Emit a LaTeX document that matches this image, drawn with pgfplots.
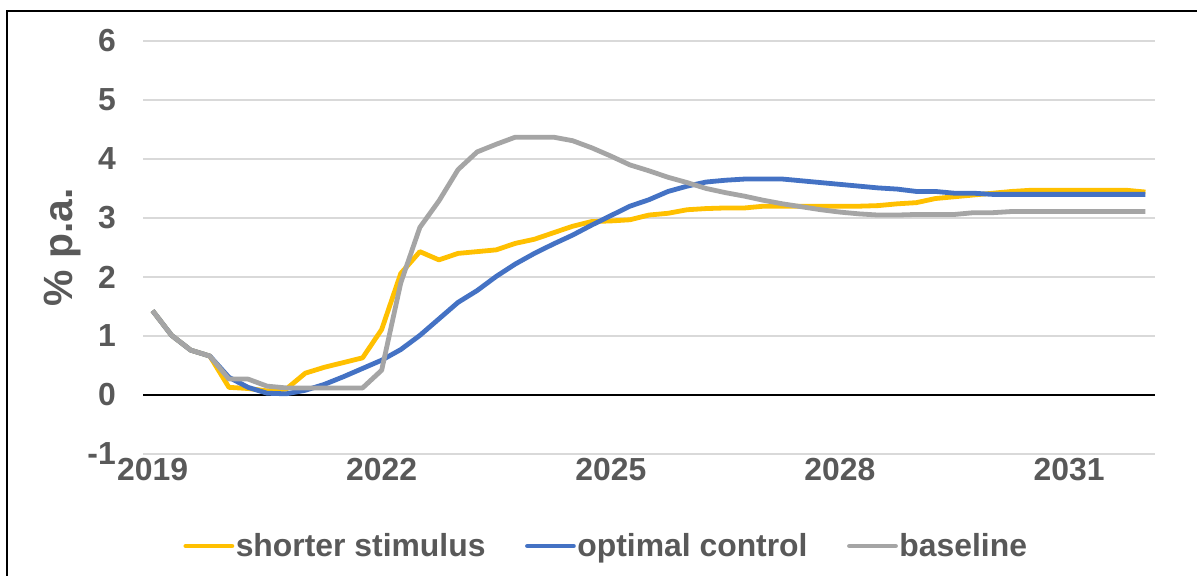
\documentclass[border=0pt]{standalone}
\usepackage{pgfplots}
\pgfplotsset{compat=1.18}
\usepackage{pgfplotstable}
\usepackage{fontspec}
\setmainfont{Liberation Sans}
\definecolor{cyel}{HTML}{FFC000}
\definecolor{cblu}{HTML}{4472C4}
\definecolor{cgry}{HTML}{A5A5A5}
\definecolor{ctxt}{HTML}{595959}
\definecolor{cgrid}{HTML}{D9D9D9}

\pgfplotstableread{
i yel blu gry
0 1.43 1.43 1.43
1 1.01 1.01 1.01
2 0.76 0.76 0.76
3 0.66 0.66 0.66
4 0.13 0.30 0.27
5 0.11 0.13 0.27
6 0.07 0.03 0.15
7 0.10 0.02 0.12
8 0.37 0.08 0.12
9 0.47 0.18 0.12
10 0.55 0.31 0.12
11 0.63 0.45 0.12
12 1.11 0.59 0.42
13 2.06 0.77 1.90
14 2.43 1.01 2.84
15 2.29 1.29 3.29
16 2.40 1.57 3.82
17 2.43 1.77 4.12
18 2.46 2.01 4.25
19 2.57 2.22 4.37
20 2.64 2.40 4.37
21 2.75 2.56 4.37
22 2.86 2.71 4.31
23 2.94 2.88 4.19
24 2.95 3.04 4.05
25 2.97 3.20 3.90
26 3.05 3.31 3.80
27 3.08 3.45 3.69
28 3.14 3.54 3.60
29 3.16 3.61 3.50
30 3.17 3.64 3.43
31 3.17 3.66 3.37
32 3.20 3.66 3.30
33 3.20 3.66 3.24
34 3.20 3.63 3.19
35 3.20 3.60 3.14
36 3.20 3.57 3.10
37 3.20 3.54 3.07
38 3.21 3.51 3.05
39 3.24 3.49 3.05
40 3.26 3.45 3.06
41 3.33 3.45 3.06
42 3.36 3.42 3.06
43 3.39 3.42 3.09
44 3.42 3.40 3.09
45 3.45 3.40 3.11
46 3.47 3.40 3.11
47 3.47 3.40 3.11
48 3.47 3.40 3.11
49 3.47 3.40 3.11
50 3.47 3.40 3.11
51 3.47 3.40 3.11
52 3.44 3.40 3.11
}\datatable

\begin{document}
\begin{tikzpicture}
\useasboundingbox (0bp,0bp) rectangle (1197bp,576bp);
\fill[white] (0bp,0bp) rectangle (1197bp,576bp);
\draw[black, line width=1.5bp] (7bp,-10bp) -- (7bp,565bp) -- (1210bp,565bp);
\begin{axis}[
  at={(143bp,122bp)}, anchor=south west,
  scale only axis, width=1012bp, height=413bp,
  xmin=-0.5, xmax=52.5, ymin=-1, ymax=6,
  xtick={0,12,24,36,48}, xticklabels={2019,2022,2025,2028,2031},
  ytick={-1,0,...,6},
  ymajorgrids, grid style={cgrid, line width=1.3bp},
  extra y ticks={0}, extra y tick labels={},
  extra y tick style={grid style={black, line width=1.3bp}},
  axis line style={draw=none},
  major tick length=0pt,
  /pgf/number format/assume math mode=true,
  ticklabel style={font=\fontsize{32}{36}\selectfont\bfseries, text=ctxt},
  yticklabel style={anchor=east, inner sep=0pt, xshift=-27bp},
  xticklabel style={anchor=north, inner sep=0pt, yshift=-4bp},
  ylabel={\% p.a.},
  every axis y label/.style={at={(axis description cs:-0.08,0.5)}, rotate=90, anchor=center,
     font=\fontsize{41}{46}\selectfont\bfseries, text=ctxt},
  legend columns=3,
  legend style={at={(axis description cs:0.4575,-0.2228)}, anchor=center, draw=none, fill=none,
     font=\fontsize{32}{36}\selectfont\bfseries, text=ctxt, inner sep=0pt,
     nodes={inner sep=1.5bp},
     /tikz/every even column/.append style={column sep=38bp}},
  legend image code/.code={\draw[#1, line cap=round] (0bp,0bp) -- (46bp,0bp);},
  every axis plot/.append style={line width=4.8bp, mark=none, line join=round},
]
\addplot[cyel] table[x=i, y=yel] {\datatable};
\addlegendentry{shorter stimulus}
\addplot[cblu] table[x=i, y=blu] {\datatable};
\addlegendentry{optimal control}
\addplot[cgry] table[x=i, y=gry] {\datatable};
\addlegendentry{baseline}
\end{axis}
\end{tikzpicture}
\end{document}
